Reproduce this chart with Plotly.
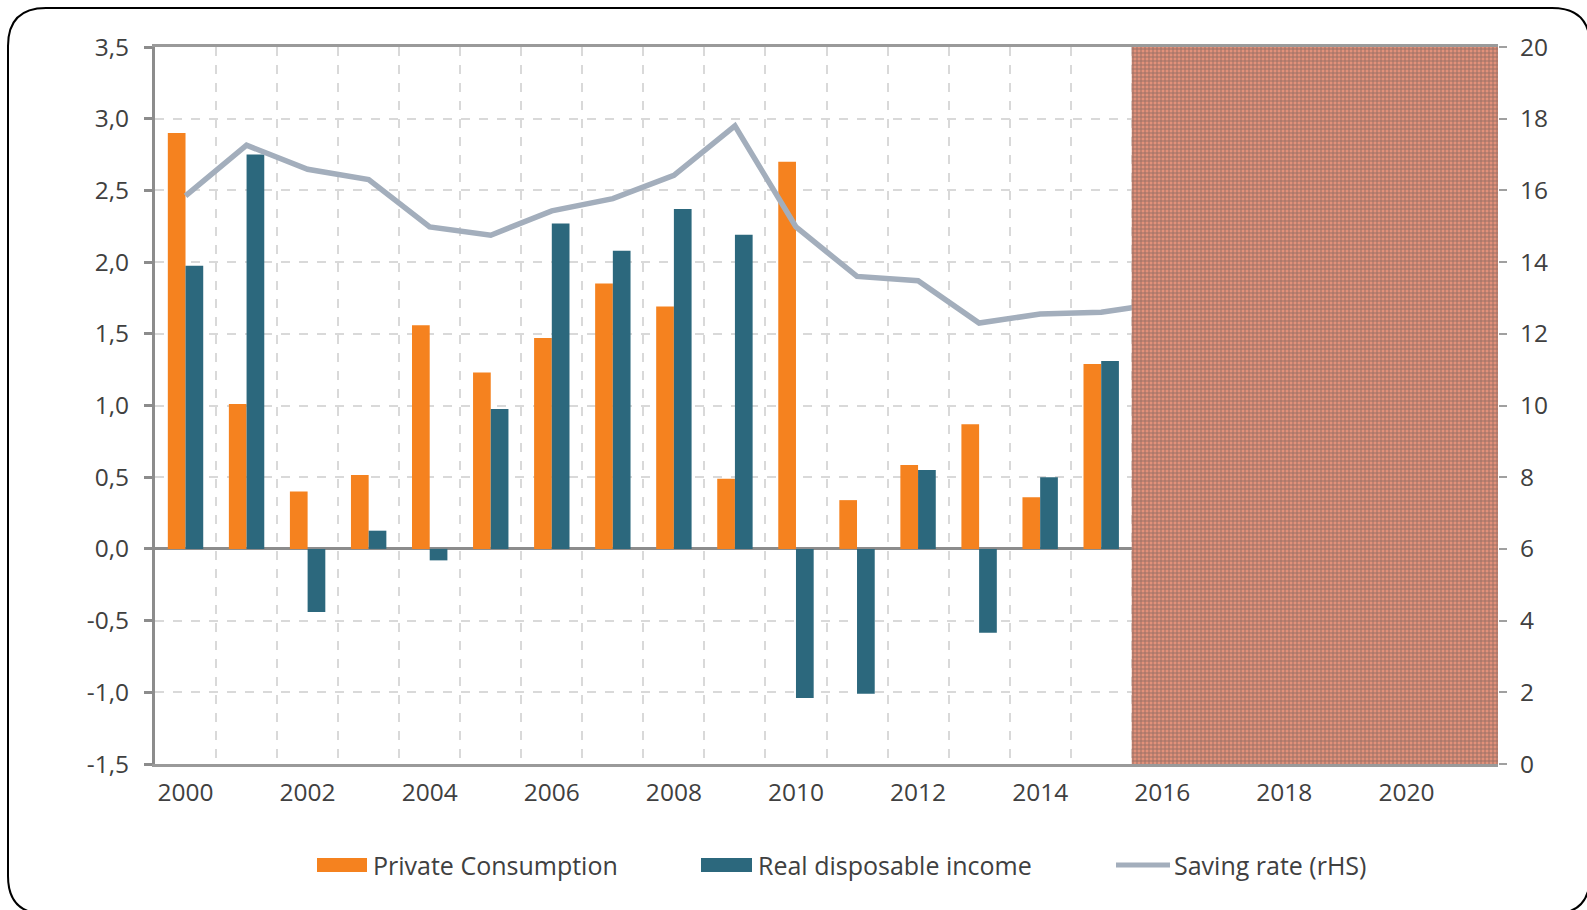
import plotly.graph_objects as go

# ---- data ----
years = list(range(2000, 2016))
private_consumption = [2.90, 1.01, 0.40, 0.515, 1.56, 1.23, 1.47, 1.85, 1.69, 0.49,
                       2.70, 0.34, 0.585, 0.87, 0.36, 1.29]
real_disposable_income = [1.975, 2.75, -0.44, 0.127, -0.08, 0.975, 2.27, 2.08, 2.37, 2.19,
                          -1.04, -1.01, 0.55, -0.585, 0.50, 1.31]
saving_years = list(range(2000, 2017))
saving_rate = [15.85, 17.26, 16.59, 16.3, 14.98, 14.75, 15.43, 15.77, 16.42, 17.8,
               14.98, 13.6, 13.48, 12.3, 12.55, 12.6, 12.85]

forecast_start, forecast_end = 2015.5, 2021.5
x_tick_years = list(range(2000, 2021, 2))
left_ticks = [-1.5, -1.0, -0.5, 0.0, 0.5, 1.0, 1.5, 2.0, 2.5, 3.0, 3.5]
left_tick_text = [f"{v:.1f}".replace(".", ",") for v in left_ticks]
right_ticks = list(range(0, 21, 2))
legend_labels = ["Private Consumption", "Real disposable income", "Saving rate (rHS)"]

ORANGE = "#F5821F"
TEAL = "#2C687D"
GREY_LINE = "#A3AEBC"
TEXT = "#404040"
FONT = "Open Sans"

W, H = 1587, 910
L, R, T, B = 155, 89, 47, 146
PW, PH = W - L - R, H - T - B


def px(x):
    return (x - L) / PW


def py(y):
    return (H - B - y) / PH


fig = go.Figure()
fig.add_trace(go.Bar(x=years, y=private_consumption, name=legend_labels[0],
                     marker=dict(color=ORANGE, line=dict(width=0)), showlegend=False))
fig.add_trace(go.Bar(x=years, y=real_disposable_income, name=legend_labels[1],
                     marker=dict(color=TEAL, line=dict(width=0)), showlegend=False))
fig.add_trace(go.Scatter(x=saving_years, y=saving_rate, name=legend_labels[2], yaxis="y2",
                         mode="lines", line=dict(color=GREY_LINE, width=5.5), showlegend=False))
# forecast shading
fig.add_trace(go.Scatter(
    x=[forecast_start, forecast_end, forecast_end, forecast_start, forecast_start],
    y=[0, 0, 20, 20, 0], yaxis="y2", mode="lines", line=dict(width=0),
    fill="toself", fillcolor="#D98A74",
    fillpattern=dict(shape="+", fgcolor="#505050", bgcolor="#E2917A", size=4, solidity=0.42),
    showlegend=False, hoverinfo="skip"))

shapes = []
# rounded frame
x0, y0, x1, y1, r = 8, 8, 1590, 914, 38
path = (f"M {px(x0 + r)} {py(y0)} L {px(x1 - r)} {py(y0)} "
        f"Q {px(x1)} {py(y0)} {px(x1)} {py(y0 + r)} L {px(x1)} {py(y1 - r)} "
        f"Q {px(x1)} {py(y1)} {px(x1 - r)} {py(y1)} L {px(x0 + r)} {py(y1)} "
        f"Q {px(x0)} {py(y1)} {px(x0)} {py(y1 - r)} L {px(x0)} {py(y0 + r)} "
        f"Q {px(x0)} {py(y0)} {px(x0 + r)} {py(y0)} Z")
shapes.append(dict(type="path", xref="paper", yref="paper", path=path,
                   line=dict(color="black", width=2), fillcolor="rgba(0,0,0,0)", layer="below"))
# legend
ly = 865
shapes.append(dict(type="rect", xref="paper", yref="paper", x0=px(317), x1=px(367),
                   y0=py(ly - 7), y1=py(ly + 7), fillcolor=ORANGE, line=dict(width=0)))
shapes.append(dict(type="rect", xref="paper", yref="paper", x0=px(701), x1=px(752),
                   y0=py(ly - 7), y1=py(ly + 7), fillcolor=TEAL, line=dict(width=0)))
shapes.append(dict(type="line", xref="paper", yref="paper", x0=px(1116), x1=px(1170),
                   y0=py(ly), y1=py(ly), line=dict(color=GREY_LINE, width=5)))
annotations = []
for xpos, label in [(371, legend_labels[0]), (756, legend_labels[1]), (1172, legend_labels[2])]:
    annotations.append(dict(x=px(xpos), y=py(ly), xref="paper", yref="paper", text=label,
                            showarrow=False, xanchor="left", yanchor="middle",
                            font=dict(family=FONT, size=25, color=TEXT)))

fig.update_layout(
    width=W, height=H, margin=dict(l=L, r=R, t=T, b=B),
    paper_bgcolor="white", plot_bgcolor="white",
    barmode="group", bargap=0.42, bargroupgap=0,
    font=dict(family=FONT, size=22, color=TEXT),
    xaxis=dict(range=[1999.5, 2021.5], tickvals=x_tick_years, ticks="", showgrid=False,
               showline=True, linecolor="#9A9A9A", linewidth=2.5, mirror=True,
               tickfont=dict(size=24.5, color=TEXT), zeroline=False, ticklabelstandoff=5,
               minor=dict(tick0=1999.5, dtick=1, showgrid=True, gridcolor="#D9D9D9",
                          griddash="dash", gridwidth=1.5, ticks="")),
    yaxis=dict(range=[-1.5, 3.5], tickvals=left_ticks, ticktext=left_tick_text,
               showgrid=True, gridcolor="#D9D9D9", griddash="dash", gridwidth=1.5,
               showline=True, linecolor="#8C8C8C", linewidth=3,
               ticks="outside", ticklen=8, tickwidth=3, tickcolor="#8C8C8C",
               zeroline=True, zerolinecolor="#8C8C8C", zerolinewidth=3,
               tickfont=dict(size=24.5, color=TEXT), ticklabelstandoff=10),
    yaxis2=dict(range=[0, 20], overlaying="y", side="right", tickvals=right_ticks,
                showgrid=False, showline=False, zeroline=False,
                ticks="outside", ticklen=8, tickwidth=2, tickcolor="#A0A0A0",
                tickfont=dict(size=24.5, color=TEXT), ticklabelstandoff=8),
    shapes=shapes, annotations=annotations,
)

fig.write_html("out.html", config={"displayModeBar": False},
               post_script="document.body.style.margin='0';")
